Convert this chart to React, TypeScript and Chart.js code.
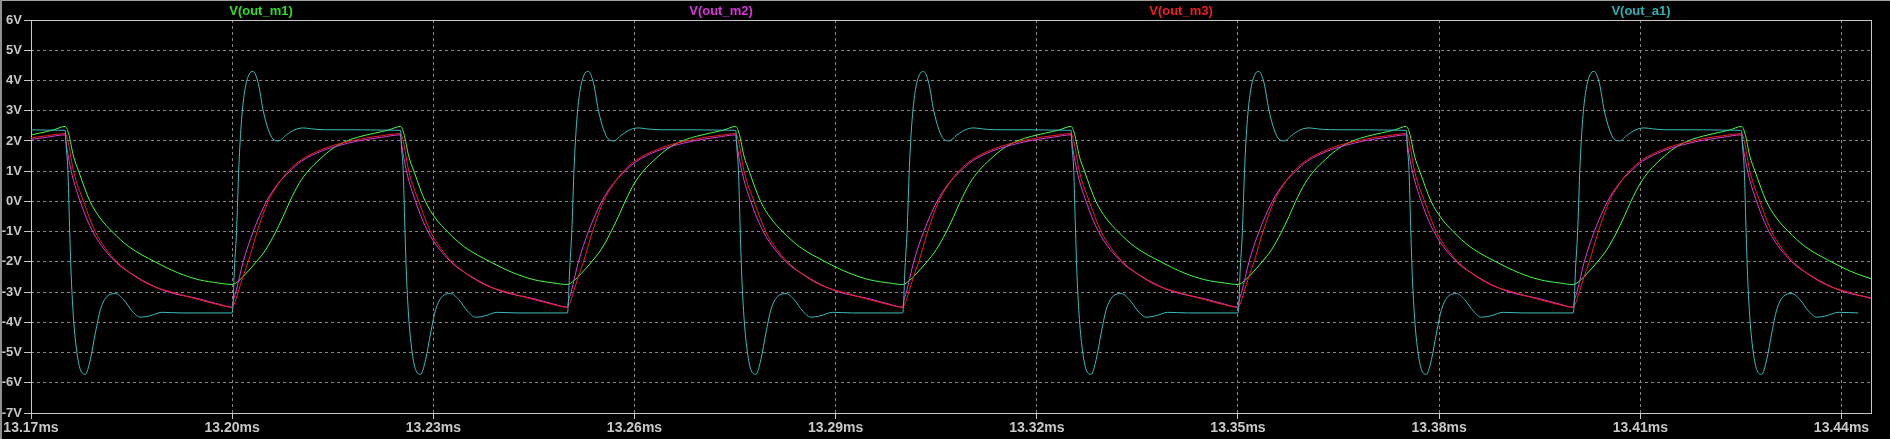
import React, { useEffect, useRef } from "react";
import { Chart, registerables } from "chart.js";

Chart.register(...registerables);

// ---- Data (one period: offsets in µs from each rising edge, values in V) ----
const cycleStarts = [13.15, 13.2, 13.25, 13.3, 13.35, 13.4]; // ms, rising edges
const xMin = 13.17;
const xMax = 13.4444;
const xTickValues = [13.17, 13.2, 13.23, 13.26, 13.29, 13.32, 13.35, 13.38, 13.41, 13.44];
const yTickMin = -7;
const yTickMax = 6;

const seriesNames = ["V(out_m1)", "V(out_m2)", "V(out_m3)", "V(out_a1)"];

const m1T = [0, 1.0, 2.0, 3.6, 5.0, 6.4, 7.6, 8.6, 10.0, 11.3, 13.1, 15.0, 17.1, 19.2, 21.3, 23.3, 25.1,
  25.6, 26.34, 27.1, 28.8, 30.3, 32.1, 34.6, 38.5, 42.0, 45.0, 48.0];
const m1V = [-2.75, -2.62, -2.4, -2.0, -1.6, -1.05, -0.5, 0.0, 0.6, 1.0, 1.4, 1.75, 2.0, 2.15, 2.26, 2.36, 2.48,
  2.25, 1.49, 1.0, 0.0, -0.55, -1.0, -1.5, -2.0, -2.37, -2.59, -2.7];

const m2T = [0, 0.15, 0.55, 1.64, 3.13, 5.12, 6.7, 8.6, 10.34, 13.3, 16.0, 18.8, 22.3, 25.1,
  25.2, 26.0, 27.34, 29.2, 32.6, 35.4, 37.8, 40.5, 45.0, 48.0];
const m2V = [-3.5, -3.3, -3.0, -2.0, -1.0, 0.0, 0.55, 1.0, 1.33, 1.66, 1.85, 2.0, 2.12, 2.2,
  2.0, 1.0, 0.0, -1.0, -2.0, -2.45, -2.75, -3.0, -3.22, -3.4];

const m3T = [0, 0.3, 0.9, 1.6, 2.39, 3.73, 5.37, 6.8, 8.35, 10.34, 13.3, 15.5, 17.8, 20.0, 22.3, 25.1,
  25.5, 26.34, 27.83, 29.58, 31.1, 32.8, 35.5, 38.1, 41.0, 45.0, 48.0];
const m3V = [-3.5, -3.4, -3.0, -2.5, -2.0, -1.0, 0.0, 0.55, 1.0, 1.38, 1.71, 1.88, 2.0, 2.1, 2.17, 2.24,
  2.0, 1.0, 0.0, -1.0, -1.55, -2.0, -2.48, -2.8, -3.0, -3.25, -3.42];

const a1T = [0, 0.15, 0.3, 0.65, 1.0, 1.4, 1.9, 2.5, 3.1, 3.9, 4.6, 5.4, 6.1, 6.9, 8.1, 9.35, 10.6, 11.8, 13.8,
  25.1, 25.25, 25.5, 25.75, 26.0, 26.35, 26.85, 27.35, 28.1, 28.85, 29.6, 30.35, 31.35, 32.6, 33.8, 35.1,
  36.3, 37.8, 39.5, 42.5];
const a1V = [-3.69, -3.3, -2.4, -1.0, 1.16, 2.7, 3.69, 4.19, 4.3, 3.9, 3.03, 2.37, 2.06, 2.0, 2.2, 2.37, 2.43, 2.4, 2.37,
  2.35, 1.8, 1.05, -0.82, -2.48, -3.9, -5.0, -5.56, -5.72, -5.23, -4.35, -3.58, -3.14, -3.05, -3.25, -3.63,
  -3.83, -3.78, -3.67, -3.69];

const lineColors = ["#44ff44", "#d83cd8", "#f01e1e", "#3cbcbc"];
const legendColors = ["#2fdc2f", "#dc34dc", "#ec2020", "#30b0b0"];

function buildPoints(T: number[], V: number[]) {
  const pts: { x: number; y: number }[] = [];
  for (const s of cycleStarts) {
    for (let i = 0; i < T.length; i++) {
      pts.push({ x: s + T[i] / 1000, y: V[i] });
    }
  }
  return pts;
}

const framePlugin = {
  id: "ltFrame",
  beforeDraw(chart: any) {
    const { ctx, width, height } = chart;
    ctx.save();
    ctx.fillStyle = "#000000";
    ctx.fillRect(0, 0, width, height);
    ctx.fillStyle = "#a0a0a0";
    ctx.fillRect(0, 0, width, 1);
    ctx.fillStyle = "#909090";
    ctx.fillRect(0, 0, 2, height);
    ctx.restore();
  },
  beforeDatasetsDraw(chart: any) {
    const { ctx, chartArea } = chart;
    ctx.save();
    ctx.strokeStyle = "#c8c8c8";
    ctx.lineWidth = 1;
    ctx.setLineDash([]);
    ctx.strokeRect(chartArea.left + 0.5, chartArea.top + 0.5, chartArea.right - chartArea.left, chartArea.bottom - chartArea.top);
    ctx.restore();
  },
  afterDraw(chart: any) {
    const { ctx, chartArea } = chart;
    const w = (chartArea.right - chartArea.left) / seriesNames.length;
    ctx.save();
    ctx.font = 'bold 13px "Liberation Sans", Arial, sans-serif';
    ctx.textAlign = "center";
    ctx.textBaseline = "middle";
    seriesNames.forEach((n, i) => {
      ctx.fillStyle = legendColors[i];
      ctx.fillText(n, chartArea.left + w * (i + 0.5), 11);
    });
    ctx.restore();
  },
};

export default function App() {
  const ref = useRef<HTMLCanvasElement | null>(null);
  useEffect(() => {
    if (!ref.current) return;
    const seriesT = [m1T, m2T, m3T, a1T];
    const seriesV = [m1V, m2V, m3V, a1V];
    const order = [3, 2, 1, 0]; // cyan drawn on top
    const datasets = order.map((i) => ({
      label: seriesNames[i],
      data: buildPoints(seriesT[i], seriesV[i]),
      borderColor: lineColors[i],
      backgroundColor: lineColors[i],
      borderWidth: 1,
      pointRadius: 0,
      fill: false,
      cubicInterpolationMode: "monotone" as const,
    }));
    const chart = new Chart(ref.current, {
      type: "line",
      data: { datasets },
      plugins: [framePlugin],
      options: {
        animation: false,
        responsive: false,
        devicePixelRatio: 1,
        parsing: false as any,
        layout: { padding: { top: 20, right: 19, left: 0, bottom: 0 } },
        plugins: { legend: { display: false }, tooltip: { enabled: false } },
        scales: {
          x: {
            type: "linear",
            min: xMin,
            max: xMax,
            afterBuildTicks: (s: any) => {
              s.ticks = xTickValues.map((v) => ({ value: v }));
            },
            afterFit: (s: any) => {
              s.height = 26;
            },
            ticks: {
              autoSkip: false,
              maxRotation: 0,
              color: "#c8c8c8",
              padding: 1,
              font: { family: '"Liberation Sans", Arial, sans-serif', size: 14, weight: "bold" },
              callback: (v: any) => Number(v).toFixed(2) + "ms",
            },
            grid: { color: "#858585", lineWidth: 1, tickLength: 6, tickColor: "#c8c8c8", drawTicks: true },
            border: { display: false, dash: [3, 3] },
          },
          y: {
            type: "linear",
            min: yTickMin,
            max: yTickMax,
            afterFit: (s: any) => {
              s.width = 31;
            },
            ticks: {
              stepSize: 1,
              color: "#c8c8c8",
              padding: 2,
              font: { family: '"Liberation Sans", Arial, sans-serif', size: 13, weight: "bold" },
              callback: (v: any) => v + "V",
            },
            grid: { color: "#858585", lineWidth: 1, tickLength: 7, tickColor: "#c8c8c8", drawTicks: true },
            border: { display: false, dash: [3, 3] },
          },
        },
      },
    });
    return () => chart.destroy();
  }, []);
  return (
    <div style={{ position: "fixed", left: 0, top: 0, width: 1890, height: 439, background: "#000" }}>
      <canvas ref={ref} width={1890} height={439} style={{ display: "block", width: 1890, height: 439 }} />
    </div>
  );
}
